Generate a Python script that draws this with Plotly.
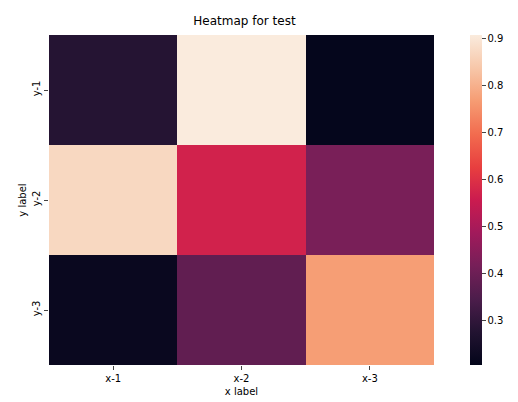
import plotly.graph_objects as go

x_labels = ["x-1", "x-2", "x-3"]
y_labels = ["y-1", "y-2", "y-3"]
values = [
    [0.28, 0.91, 0.21],
    [0.87, 0.57, 0.42],
    [0.22, 0.38, 0.77],
]

rocket = [
    [0.0, "#03051a"], [0.1, "#221331"], [0.2, "#4c1d4b"], [0.3, "#761f58"],
    [0.4, "#a11a5b"], [0.5, "#cb1b4f"], [0.6, "#e83f3f"], [0.7, "#f26c4f"],
    [0.8, "#f69c73"], [0.9, "#f7c7a9"], [1.0, "#faebdd"],
]

fig = go.Figure(go.Heatmap(
    z=values, x=x_labels, y=y_labels, colorscale=rocket,
    zmin=0.205, zmax=0.908,
    colorbar=dict(thickness=12, len=1, ypad=0, x=(458-41)/391, xanchor="left", y=0.5,
                  outlinewidth=0, ticks="outside", ticklen=4,
                  tickvals=[0.3,0.4,0.5,0.6,0.7,0.8,0.9], tickfont=dict(size=10)),
))
fig.update_layout(
    width=518, height=402,
    margin=dict(l=41, r=86, t=27, b=45),
    paper_bgcolor="white", plot_bgcolor="white",
    font=dict(family="DejaVu Sans", color="black", size=10),
    title=dict(text="Heatmap for test", x=(41+432)/2/518, xanchor="center",
               y=1-13/402, yanchor="middle", font=dict(size=12)),
    xaxis=dict(title=dict(text="x label", standoff=4, font=dict(size=10)),
               ticks="outside", ticklen=4, showgrid=False),
    yaxis=dict(title=dict(text="y label", standoff=2, font=dict(size=10)),
               autorange="reversed", ticks="outside", ticklen=4,
               tickangle=-90, showgrid=False),
)
fig.write_html("out.html")
